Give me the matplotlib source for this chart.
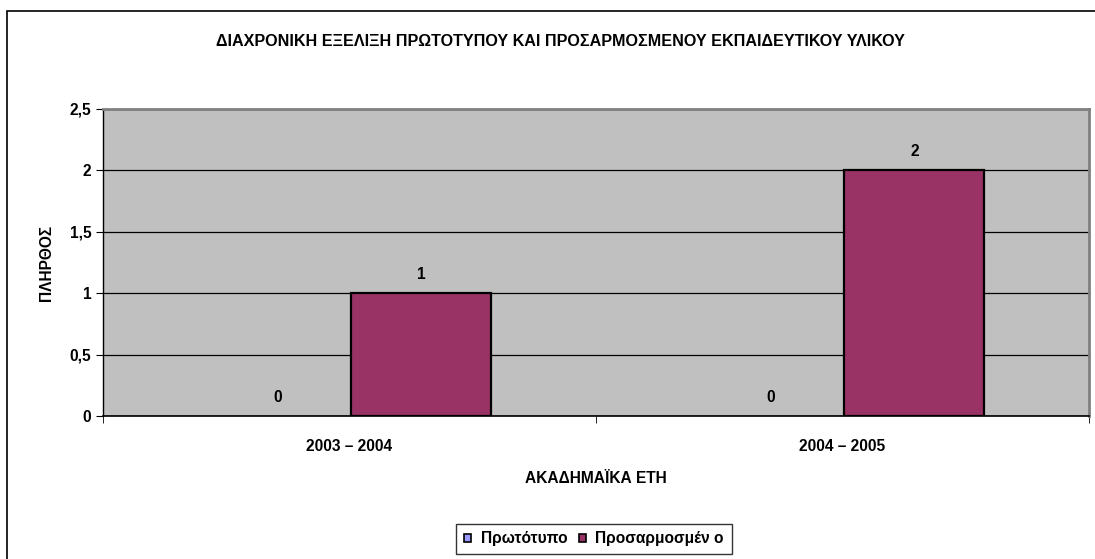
import matplotlib
matplotlib.use("Agg")
import matplotlib.pyplot as plt
from matplotlib.patches import Rectangle, Patch
import numpy as np

plt.rcParams['font.family'] = ['Liberation Sans', 'DejaVu Sans']

categories = ["2003 – 2004", "2004 – 2005"]
series_names = ["Πρωτότυπο", "Προσαρμοσμέν ο"]
original = [0, 0]
adapted = [1, 2]
colors = ["#9999FF", "#993366"]
yticks = [0, 0.5, 1, 1.5, 2, 2.5]
ytick_labels = ["0", "0,5", "1", "1,5", "2", "2,5"]

FS = 11.2
W, H = 1095, 559
fig = plt.figure(figsize=(W / 100, H / 100), dpi=100)

# outer chart border (right and bottom cut off)
fig.add_artist(Rectangle((7 / W, -0.1), 1.2, 1 - 11 / H + 0.1, transform=fig.transFigure,
                         fill=False, edgecolor="black", linewidth=1.2))

ax = fig.add_axes([103 / W, 1 - 416 / H, 986 / W, 307 / H])
ax.set_facecolor("#C0C0C0")
x = np.arange(len(categories))
bw = 0.284
off = 0.146
for vals, c, sgn, name in zip([original, adapted], colors, [-1, 1], series_names):
    bars = ax.bar(x + sgn * off, vals, width=bw, color=c, edgecolor="black", linewidth=1.6,
                  zorder=3, label=name)
    for b, v in zip(bars, vals):
        if v == 0:
            b.set_linewidth(0)
    for xi, v in zip(x, vals):
        ax.text(xi + sgn * off, v + 0.114, f"{v}", ha="center", va="baseline",
                fontsize=FS, fontweight="bold", zorder=4)

ax.set_xlim(-0.5, len(categories) - 0.5)
ax.set_ylim(0, 2.5)
ax.set_yticks(yticks)
ax.set_yticklabels(ytick_labels)
ax.yaxis.grid(True, color="black", linewidth=0.9, zorder=1)
ax.set_axisbelow(True)
ax.set_xticks(x)
ax.set_xticklabels(categories)
ax.set_xticks(np.arange(-0.5, len(categories)), minor=True)
ax.tick_params(axis="x", which="major", length=0, pad=16.5)
ax.tick_params(axis="x", which="minor", length=5, direction="out", color="black")
ax.tick_params(axis="y", length=5, direction="out", pad=3.5)
for lbl in ax.get_xticklabels() + ax.get_yticklabels():
    lbl.set_fontweight("bold")
    lbl.set_fontsize(FS)

for s in ["top", "right"]:
    ax.spines[s].set_color("#808080")
    ax.spines[s].set_linewidth(2)
ax.spines["left"].set_color("black")
ax.spines["bottom"].set_color("black")
ax.spines["left"].set_linewidth(1)
ax.spines["bottom"].set_linewidth(1.2)

ax.set_ylabel("ΠΛΗΡΘΟΣ", fontsize=FS, fontweight="bold", labelpad=11)
ax.set_xlabel("ΑΚΑΔΗΜΑΪΚΑ ΕΤΗ", fontsize=FS, fontweight="bold", labelpad=12)

fig.text(560 / W, 1 - 42 / H, "ΔΙΑΧΡΟΝΙΚΗ ΕΞΕΛΙΞΗ ΠΡΩΤΟΤΥΠΟΥ ΚΑΙ ΠΡΟΣΑΡΜΟΣΜΕΝΟΥ ΕΚΠΑΙΔΕΥΤΙΚΟΥ ΥΛΙΚΟΥ",
         ha="center", va="center", fontsize=11.6, fontweight="bold")

handles = [Patch(facecolor=c, edgecolor="black", linewidth=1.2) for c in colors]
leg = fig.legend(handles, series_names, loc="center", bbox_to_anchor=(594 / W, 1 - 539 / H),
                 ncol=2, frameon=True, fancybox=False, edgecolor="black",
                 prop={"weight": "bold", "size": FS}, handlelength=0.45, handleheight=0.45,
                 handletextpad=0.6, columnspacing=0.75, borderpad=0.5, borderaxespad=0)
leg.get_frame().set_linewidth(1)

fig.savefig("out.png", dpi=100)
